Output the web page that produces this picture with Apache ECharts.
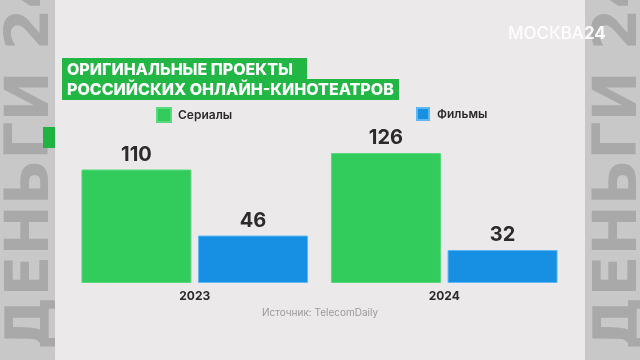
<!DOCTYPE html>
<html>
<head>
<meta charset="utf-8">
<script src="https://cdn.jsdelivr.net/npm/echarts@6/dist/echarts.min.js"></script>
<style>
html,body{margin:0;padding:0;background:#c8c8c8;}
#chart{width:640px;height:360px;}
</style>
</head>
<body>
<div id="chart"></div>
<script>
const categories = ['2023', '2024'];
const seriesNames = ['Сериалы', 'Фильмы'];
const serialsValues = [110, 126];
const filmsValues = [46, 32];
const titleLines = ['ОРИГИНАЛЬНЫЕ ПРОЕКТЫ', 'РОССИЙСКИХ ОНЛАЙН-КИНОТЕАТРОВ'];
const sourceText = 'Источник: TelecomDaily';
const sideText = 'ДЕНЬГИ 24';

const GREEN = '#31cc5c';
const BLUE = '#1790e3';
const FONT = 'Inter, "Open Sans", sans-serif';

const chart = echarts.init(document.getElementById('chart'), null, {renderer: 'canvas'});

const option = {
  backgroundColor: '#c8c8c8',
  animation: false,
  graphic: [
    {type: 'text', z: -20, x: 2, y: 350, rotation: Math.PI / 2,
      style: {text: sideText, font: 'bold 60px "DejaVu Sans"', fill: '#a9a9a9', textAlign: 'left', textVerticalAlign: 'top'}},
    {type: 'text', z: -20, x: 590, y: 350, rotation: Math.PI / 2,
      style: {text: sideText, font: 'bold 60px "DejaVu Sans"', fill: '#a9a9a9', textAlign: 'left', textVerticalAlign: 'top'}},
    {type: 'rect', z: -19, shape: {x: 43, y: 127, width: 12, height: 21}, style: {fill: '#1fb440'}},
    {type: 'rect', z: -10, shape: {x: 55, y: 0, width: 530, height: 360}, style: {fill: '#ece9ea'}},
    {type: 'rect', z: -5, shape: {x: 62, y: 58, width: 245, height: 23}, style: {fill: '#22b744'}},
    {type: 'rect', z: -5, shape: {x: 62, y: 79, width: 337, height: 21}, style: {fill: '#22b744'}},
    {type: 'text', z: 5, x: 67, y: 70,
      style: {text: titleLines[0], font: '800 16px ' + FONT, fill: '#ffffff', textVerticalAlign: 'middle'}},
    {type: 'text', z: 5, x: 67, y: 90.5,
      style: {text: titleLines[1], font: '800 16px ' + FONT, fill: '#ffffff', textVerticalAlign: 'middle'}},
    {type: 'text', z: 5, x: 508, y: 34,
      style: {text: '{a|МОСКВА}{b|24}', textVerticalAlign: 'middle',
        rich: {a: {font: '500 17px ' + FONT, fill: 'rgba(255,255,255,0.92)'},
               b: {font: 'bold 17px ' + FONT, fill: 'rgba(255,255,255,0.92)'}}}},
    {type: 'text', z: 5, x: 320, y: 313,
      style: {text: sourceText, font: '10px ' + FONT, fill: '#9a9a9a', textAlign: 'center', textVerticalAlign: 'middle'}}
  ],
  legend: [
    {data: [seriesNames[0]], left: 156, top: 107, padding: 0, itemWidth: 14, itemHeight: 14, icon: 'rect',
      textStyle: {fontFamily: FONT, fontSize: 12, fontWeight: 600, color: '#2b2b2b', padding: [0, 0, 0, 2]}},
    {data: [seriesNames[1]], left: 416, top: 107, padding: 0, itemWidth: 12, itemHeight: 12, icon: 'rect',
      textStyle: {fontFamily: FONT, fontSize: 12, fontWeight: 600, color: '#2b2b2b', padding: [0, 0, 0, 3]}}
  ],
  grid: {left: 70, right: 71, top: 153, bottom: 77, containLabel: false},
  xAxis: {
    type: 'category', data: categories,
    axisLine: {show: false}, axisTick: {show: false},
    axisLabel: {fontFamily: FONT, fontSize: 12, fontWeight: 'bold', color: '#2b2b2b', margin: 7}
  },
  yAxis: {type: 'value', min: 0, max: 126, show: false, splitLine: {show: false}},
  series: [
    {name: seriesNames[0], type: 'bar', data: serialsValues, barWidth: 110, barGap: '6%',
      itemStyle: {color: GREEN, borderColor: '#5ad97c', borderWidth: 1},
      label: {show: true, position: 'top', distance: 5, fontFamily: FONT, fontSize: 20, fontWeight: 'bold', color: '#2b2b2b'}},
    {name: seriesNames[1], type: 'bar', data: filmsValues, barWidth: 110,
      itemStyle: {color: BLUE, borderColor: '#5fb6f0', borderWidth: 1},
      label: {show: true, position: 'top', distance: 5, fontFamily: FONT, fontSize: 20, fontWeight: 'bold', color: '#2b2b2b'}}
  ]
};
chart.setOption(option);
</script>
</body>
</html>
